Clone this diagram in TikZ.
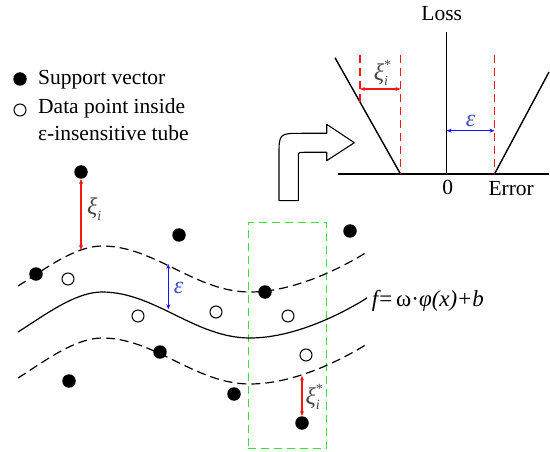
\documentclass[tikz,border=0pt]{standalone}
\usepackage{fontspec}
\setmainfont{Liberation Serif}
\usetikzlibrary{arrows.meta}
\definecolor{myred}{RGB}{255,20,20}
\definecolor{myblue}{RGB}{20,20,255}
\definecolor{epsblue}{RGB}{60,80,200}
\definecolor{mygreen}{RGB}{50,230,50}
\definecolor{labgray}{RGB}{70,70,70}
\begin{document}
\begin{tikzpicture}[x=1pt,y=-1pt,
  sv/.style={circle,fill=black,minimum size=13.5pt,inner sep=0pt},
  dp/.style={circle,draw=black,line width=1pt,fill=white,minimum size=12pt,inner sep=0pt},
  txt/.style={font=\fontsize{21.5}{26}\selectfont,inner sep=0pt},
  lab/.style={font=\fontsize{24}{28}\selectfont,inner sep=0pt,text=labgray},
  epslab/.style={font=\fontsize{24}{28}\selectfont\itshape,inner sep=0pt,text=epsblue},
  tube/.style={line width=1.2pt,dash pattern=on 9pt off 5pt},
  solidc/.style={line width=1.2pt},
  axis/.style={line width=1.4pt},
  reddash/.style={draw=myred,line width=1.2pt,dash pattern=on 8pt off 5pt},
  redarr/.style={draw=myred,line width=1.1pt,{Stealth[length=5pt,width=4pt]}-{Stealth[length=5pt,width=4pt]}},
  bluearr/.style={draw=myblue,line width=1.1pt,{Stealth[length=5pt,width=4pt]}-{Stealth[length=5pt,width=4pt]}},
  greenbox/.style={draw=mygreen,line width=1.3pt,dash pattern=on 8pt off 5pt,inner sep=0pt}
]
\useasboundingbox (0,0) rectangle (550,452);

% ---------- legend ----------
\node[sv] (legsv) at (20,79) {};
\node[txt,anchor=base west] (legsvt) at (38,85) {Support vector};
\node[dp] (legdp) at (20,110) {};
\node[txt,anchor=base west] (legdpt1) at (38,113.3) {Data point inside};
\node[txt,anchor=base west] (legdpt2) at (38,140.7) {ε-insensitive tube};

% ---------- loss function ----------
\coordinate (ltop) at (446.7,31.7);
\coordinate (o) at (446.7,174);
\coordinate (hl) at (338,174);
\coordinate (hr) at (549,174);
\draw[axis] (ltop) -- (o);
\draw[axis] (hl) -- (hr);
\node[txt,anchor=base] (loss) at (441.7,20.7) {Loss};
\node[txt,anchor=base] (zero) at (447.7,195) {0};
\node[txt,anchor=base west] (err) at (488.3,196) {Error};
\coordinate (vl1) at (335,57.7);
\coordinate (vl2) at (400.5,174);
\coordinate (vr1) at (494.5,174);
\coordinate (vr2) at (549,72);
\draw[axis] (vl1) -- (vl2);
\draw[axis] (vr1) -- (vr2);
\coordinate (d1t) at (360,55);
\coordinate (d1b) at (360,102.5);
\coordinate (d2t) at (400.5,55);
\coordinate (d3t) at (494.5,55);
\draw[reddash] (d1t) -- (d1b);
\draw[reddash] (d2t) -- (vl2);
\draw[reddash] (d3t) -- (vr1);
\coordinate (xa) at (360,89);
\coordinate (xb) at (400.5,89);
\draw[redarr] (xa) -- (xb);
\node[lab] (xilab) at (381,73) {{\itshape ξ}\rlap{\raisebox{1.0ex}{\fontsize{14}{16}\selectfont *}}\raisebox{-0.5ex}{\fontsize{14}{16}\selectfont\itshape i}};
\coordinate (ea) at (446.7,130.7);
\coordinate (eb) at (494.5,130.7);
\draw[bluearr] (ea) -- (eb);
\node[epslab] (epstop) at (470.5,121) {ε};

% ---------- bent arrow ----------
\draw[line width=1.1pt,line join=round]
  (279,200.7) -- (279,156) .. controls (279,133.3) .. (302,133.3)
  -- (326.7,133.3) -- (326.7,124.3) -- (354.3,142.7) -- (326.7,160.7)
  -- (326.7,152.3) -- (304,152.3) .. controls (298.3,152.3) .. (298.3,158)
  -- (298.3,200.7) -- cycle;

% ---------- green box ----------
\node[greenbox,minimum width=78.4pt,minimum height=225.6pt] (box) at (287.5,335.5) {};

% ---------- tube curves ----------
\foreach \dy/\sty in {-46/tube,0/solidc,46/tube}{
  \draw[\sty] (18,332+\dy) .. controls (45,315+\dy) and (75,292+\dy) .. (102,292+\dy)
     .. controls (155,292+\dy) and (195,338+\dy) .. (250,338+\dy)
     .. controls (290,338+\dy) and (335,318+\dy) .. (367,298+\dy);
}
\node[txt,font=\fontsize{23}{27}\selectfont,anchor=base west] (fx) at (371.7,306.7) {{\itshape f\kern1pt}=\kern4pt ω·{\itshape φ(x)}\kern1pt+\kern1pt{\itshape b}};

% ---------- data points ----------
\node[sv] (s1) at (81,172) {};
\node[sv] (s2) at (179,235) {};
\node[sv] (s3) at (36,274) {};
\node[sv] (s4) at (265,292) {};
\node[sv] (s5) at (350,231) {};
\node[sv] (s6) at (160,352) {};
\node[sv] (s7) at (69,381) {};
\node[sv] (s8) at (234,394) {};
\node[sv] (s9) at (302,423) {};
\node[dp] (p1) at (68,279) {};
\node[dp] (p2) at (138,316) {};
\node[dp] (p3) at (216,312) {};
\node[dp] (p4) at (288,316) {};
\node[dp] (p5) at (306,355) {};

% ---------- slack / epsilon arrows ----------
\coordinate (c1) at (81,250);
\draw[redarr] (s1) -- (c1);
\node[lab,anchor=west] (xi1) at (87,209) {{\itshape ξ}\raisebox{-0.5ex}{\fontsize{14}{16}\selectfont\itshape i}};
\coordinate (c2t) at (168.3,264);
\coordinate (c2b) at (168.3,309.3);
\draw[bluearr] (c2t) -- (c2b);
\node[epslab] (eps1) at (178.5,288) {ε};
\coordinate (c3) at (302,375.7);
\draw[redarr] (c3) -- (s9);
\node[lab,anchor=west] (xi2) at (305.5,397) {{\itshape ξ}\rlap{\raisebox{1.0ex}{\fontsize{14}{16}\selectfont *}}\raisebox{-0.5ex}{\fontsize{14}{16}\selectfont\itshape i}};
\end{tikzpicture}
\end{document}
